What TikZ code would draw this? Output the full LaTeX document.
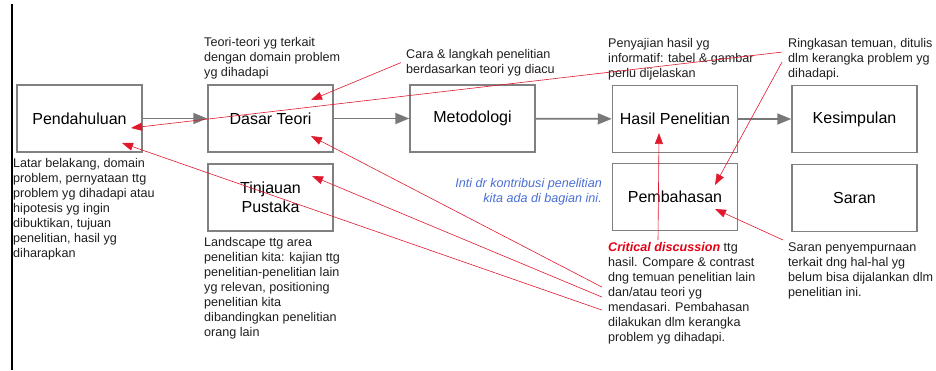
\documentclass[tikz,border=0pt]{standalone}
\usepackage{fontspec}
\setmainfont{Liberation Sans}
\usetikzlibrary{arrows.meta}

\begin{document}
\begin{tikzpicture}[x=1pt,y=-1pt,
    box/.style={draw=boxgray, line width=1.5pt, minimum width=125pt, minimum height=67pt, align=center, font=\fontsize{16}{19}\selectfont},
    flow/.style={draw=flowgray, line width=1.8pt, -{Triangle[length=14pt,width=11pt]}},
    note/.style={draw=notered, line width=0.6pt, -{Triangle[length=11pt,width=8pt]}},
    remark/.style={anchor=north west, align=left, inner sep=0pt, text=textdark, font=\fontsize{12.6}{15}\selectfont}]
    % Define colors
    \definecolor{boxgray}{RGB}{128,128,128}
    \definecolor{flowgray}{RGB}{120,120,120}
    \definecolor{notered}{RGB}{225,25,45}
    \definecolor{critred}{RGB}{230,0,20}
    \definecolor{intiblue}{RGB}{74,110,212}
    \definecolor{textdark}{RGB}{30,30,30}

    \useasboundingbox (0,0) rectangle (936,370);

    % Draw left margin line
    \draw[line width=1.8pt] (12,4) -- (12,370);

    % Draw the chapter boxes
    \node[box] (pend) at (79.5,118.5) {Pendahuluan};
    \node[box] (dasar) at (270.5,118.5) {Dasar Teori};
    \node[box] (tinjau) at (270.5,197.5) {Tinjauan\\Pustaka};
    \node[box] (metode) at (472.5,118.5) {Metodologi};
    \node[box] (hasil) at (675,119) {Hasil Penelitian};
    \node[box] (pemb) at (675,197) {Pembahasan};
    \node[box] (simpul) at (854.5,119) {Kesimpulan};
    \node[box] (saran) at (854.5,198) {Saran};

    % Main flow
    \draw[flow] (pend) -- (dasar);
    \draw[flow] (dasar) -- (metode);
    \draw[flow] (metode) -- (hasil);
    \draw[flow] (hasil) -- (simpul);

    % Remarks
    \node[remark] (latar) at (13,158) {Latar belakang, domain\\problem, pernyataan ttg\\problem yg dihadapi atau\\hipotesis yg ingin\\dibuktikan, tujuan\\penelitian, hasil yg\\diharapkan};
    \node[remark] (teori) at (204,37) {Teori-teori yg terkait\\dengan domain problem\\yg dihadapi};
    \node[remark] (cara) at (406,49) {Cara \& langkah penelitian\\berdasarkan teori yg diacu};
    \node[remark] (sajian) at (608,38) {Penyajian hasil yg\\informatif: tabel \& gambar\\perlu dijelaskan};
    \node[remark] (ringkas) at (788,38) {Ringkasan temuan, ditulis\\dlm kerangka problem yg\\dihadapi.};
    \node[remark] (landscape) at (204,237) {Landscape ttg area\\penelitian kita: kajian ttg\\penelitian-penelitian lain\\yg relevan, positioning\\penelitian kita\\dibandingkan penelitian\\orang lain};
    \node[remark] (kritis) at (608,242) {{\color{critred}\bfseries\itshape Critical discussion} ttg\\hasil. Compare \& contrast\\dng temuan penelitian lain\\dan/atau teori yg\\mendasari. Pembahasan\\dilakukan dlm kerangka\\problem yg dihadapi.};
    \node[remark] (saranket) at (788,242) {Saran penyempurnaan\\terkait dng hal-hal yg\\belum bisa dijalankan dlm\\penelitian ini.};
    \node[remark, anchor=north east, align=right, text=intiblue, font=\fontsize{12.6}{15}\selectfont\itshape] (inti) at (602,178) {Inti dr kontribusi penelitian\\kita ada di bagian ini.};

    % Arrow tips inside the boxes
    \coordinate (caraTip) at (311,100);
    \coordinate (ringkasTip) at (131,128);
    \coordinate (pembTipA) at (715,185);
    \coordinate (pembTipB) at (715,209);
    \coordinate (hasilTip) at (659,133);
    \coordinate (dasarTip) at (311,136);
    \coordinate (tinjauTip) at (312,176);
    \coordinate (pendTip) at (122,143);

    % Red pointers
    \draw[note] ([xshift=-5pt]cara.west) -- (caraTip);
    \draw[note] ([xshift=-6pt,yshift=7pt]ringkas.west) -- (ringkasTip);
    \draw[note] ([xshift=-6pt,yshift=-3pt]ringkas.west) -- (pembTipA);
    \draw[note] ([xshift=50pt,yshift=2pt]kritis.north west) -- (hasilTip);
    \draw[note] ([xshift=-5pt,yshift=2pt]saranket.north west) -- (pembTipB);
    \draw[note] ([xshift=-6pt,yshift=6pt]kritis.west) -- (dasarTip);
    \draw[note] ([xshift=-6pt,yshift=-4pt]kritis.west) -- (tinjauTip);
    \draw[note] ([xshift=-6pt,yshift=-17pt]kritis.west) -- (pendTip);
\end{tikzpicture}
\end{document}
